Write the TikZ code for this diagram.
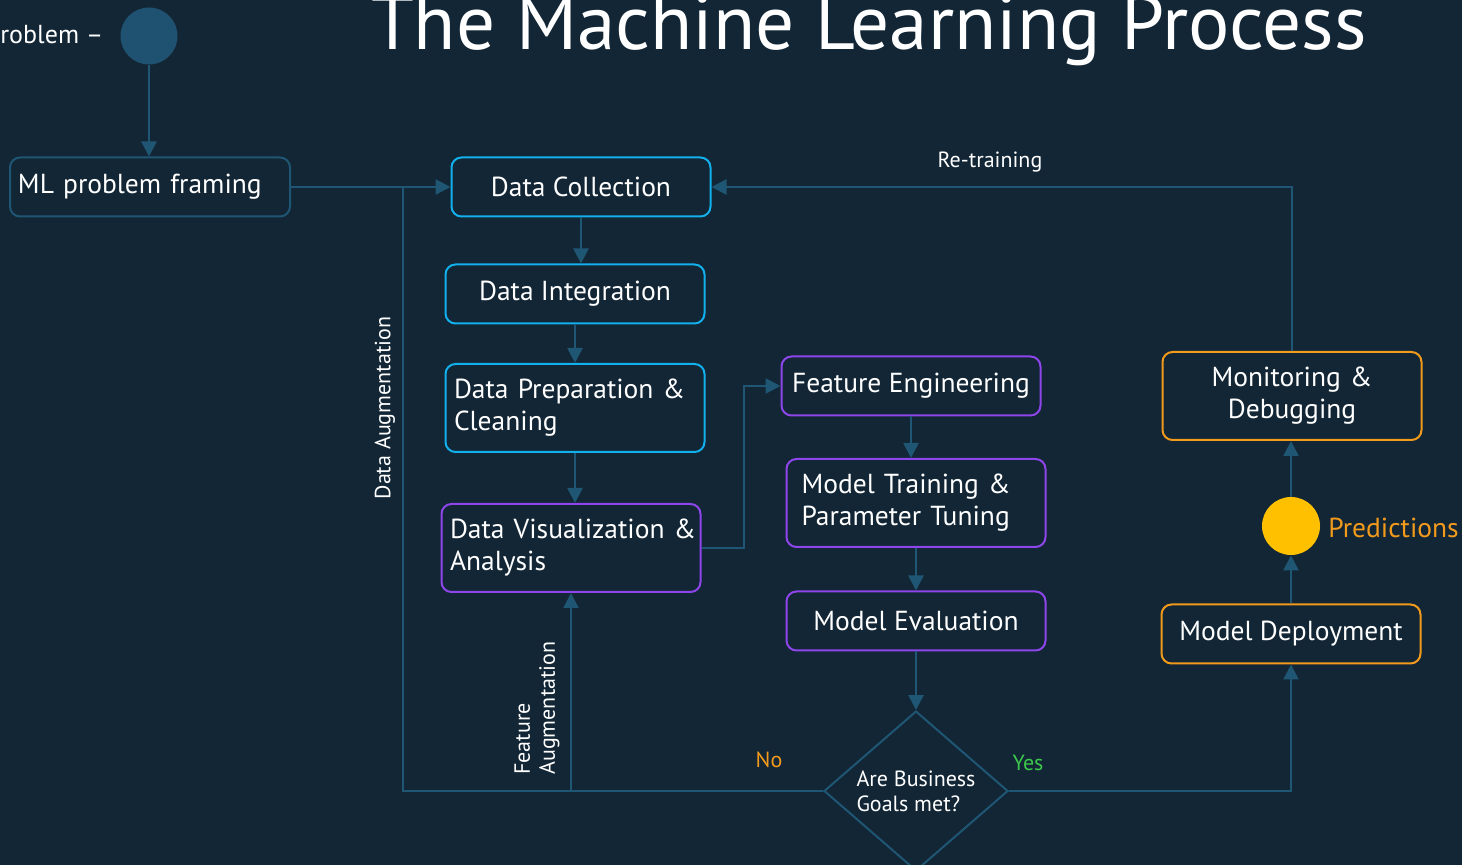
\documentclass[tikz,border=0pt]{standalone}
\usepackage{fontspec}
\setmainfont{PT Sans}
\usetikzlibrary{arrows.meta,shapes.geometric}

\definecolor{bgnavy}{HTML}{122635}
\definecolor{linkblue}{HTML}{1F5673}
\definecolor{dotblue}{HTML}{1F5270}
\definecolor{boxcyan}{HTML}{12B0EC}
\definecolor{boxpurple}{HTML}{8F45EC}
\definecolor{boxorange}{HTML}{F29A1C}
\definecolor{predgold}{HTML}{FFC000}
\definecolor{yesgreen}{HTML}{3CC84A}

\newcommand{\boxfont}{\fontsize{13.75}{16}\selectfont}
\newcommand{\smallfont}{\fontsize{11}{12.5}\selectfont}

\begin{document}
\begin{tikzpicture}[x=0.5pt,y=-0.5pt,
    box/.style={draw, rounded corners=5pt, line width=1pt, text=white,
      minimum width=129.5pt, minimum height=29.5pt, inner sep=0pt, font=\boxfont},
    cyanbox/.style={box, draw=boxcyan},
    purplebox/.style={box, draw=boxpurple},
    orangebox/.style={box, draw=boxorange},
    tallbox/.style={minimum height=44pt, align=left, inner xsep=4.25pt, text width=121pt},
    link/.style={draw=linkblue, line width=1.25pt, -{Triangle[length=7.5pt,width=7.5pt]}},
    plainlink/.style={draw=linkblue, line width=1.25pt},
    lbl/.style={text=white, font=\smallfont, inner sep=0pt}]

    % background and page size
    \fill[bgnavy] (0,0) rectangle (1462,865);
    \useasboundingbox (0,0) rectangle (1462,865);

    % title and start
    \node (title) [anchor=base, text=white, font=\fontsize{38.6}{42}\selectfont, inner sep=0pt] at (869,50) {The Machine Learning Process};
    \node (problem) [anchor=west, text=white, font=\fontsize{13}{16}\selectfont, inner sep=0pt] at (0,35) {roblem –};
    \node (start) [circle, fill=dotblue, minimum size=28.5pt, inner sep=0pt] at (149,36) {};

    % boxes
    \node (mlf) [box, draw=linkblue, minimum width=140pt, text width=132pt, inner xsep=4pt, align=left] at (150,187) {ML problem framing};
    \node (dc) [cyanbox] at (581,187) {Data Collection};
    \node (di) [cyanbox] at (575,294) {Data Integration};
    \node (dp) [cyanbox, tallbox] at (575,408) {Data Preparation \&\\Cleaning};
    \node (dv) [purplebox, tallbox] at (571,548) {\mbox{Data Visualization \&}\\Analysis};
    \node (fe) [purplebox] at (911,386) {Feature Engineering};
    \node (mt) [purplebox, tallbox, inner xsep=7.5pt, text width=114.5pt] at (916,503) {Model Training \&\\Parameter Tuning};
    \node (me) [purplebox] at (916,621) {Model Evaluation};
    \node (goal) [diamond, draw=linkblue, line width=1pt, minimum width=92pt, minimum height=71pt, inner sep=0pt, text=white, font=\smallfont, align=left] at (916,791) {Are Business\\Goals met?};
    \node (dep) [orangebox] at (1291,634) {Model Deployment};
    \node (pred) [circle, fill=predgold, minimum size=29pt, inner sep=0pt] at (1291,526) {};
    \node (predlbl) [anchor=west, text=boxorange, font=\boxfont, inner sep=0pt] at (1328,528) {Predictions};
    \node (mon) [orangebox, tallbox, align=center] at (1292,396) {Monitoring \&\\Debugging};

    % bends
    \coordinate (augtop) at (403,187);
    \coordinate (vfbend) at (744,548);

    % connectors
    \draw [link] (start) -- (mlf.north -| start);
    \draw [link] (mlf.east) -- (dc.west);
    \draw [link] (dc.south) -- (dc.south |- di.north);
    \draw [link] (di.south) -- (di.south |- dp.north);
    \draw [link] (dp.south) -- (dp.south |- dv.north);
    \draw [link] (dv.east) -- (vfbend) |- (fe.west);
    \draw [link] (fe.south) -- (fe.south |- mt.north);
    \draw [link] (mt.south) -- (mt.south |- me.north);
    \draw [link] (me.south) -- (goal.north);
    \draw [plainlink] (goal.west) -| (augtop);
    \draw [link] (dv.south |- goal.west) -- (dv.south);
    \draw [link] (goal.east) -| (dep.south);
    \draw [link] (dep.north) -- (pred.south);
    \draw [link] (pred.north) -- (mon.south -| pred);
    \draw [link] (mon.north) |- (dc.east);

    % labels
    \node (retrain) [lbl] at (990,162) {Re-training};
    \node (dataaug) [lbl, rotate=90] at (385,408) {Data Augmentation};
    \node (feataug) [lbl, rotate=90, anchor=west, align=left] at (537,775) {Feature\\Augmentation};
    \node (nolbl) [lbl, text=boxorange] at (769,760) {No};
    \node (yeslbl) [lbl, text=yesgreen] at (1028,763) {Yes};
\end{tikzpicture}
\end{document}
